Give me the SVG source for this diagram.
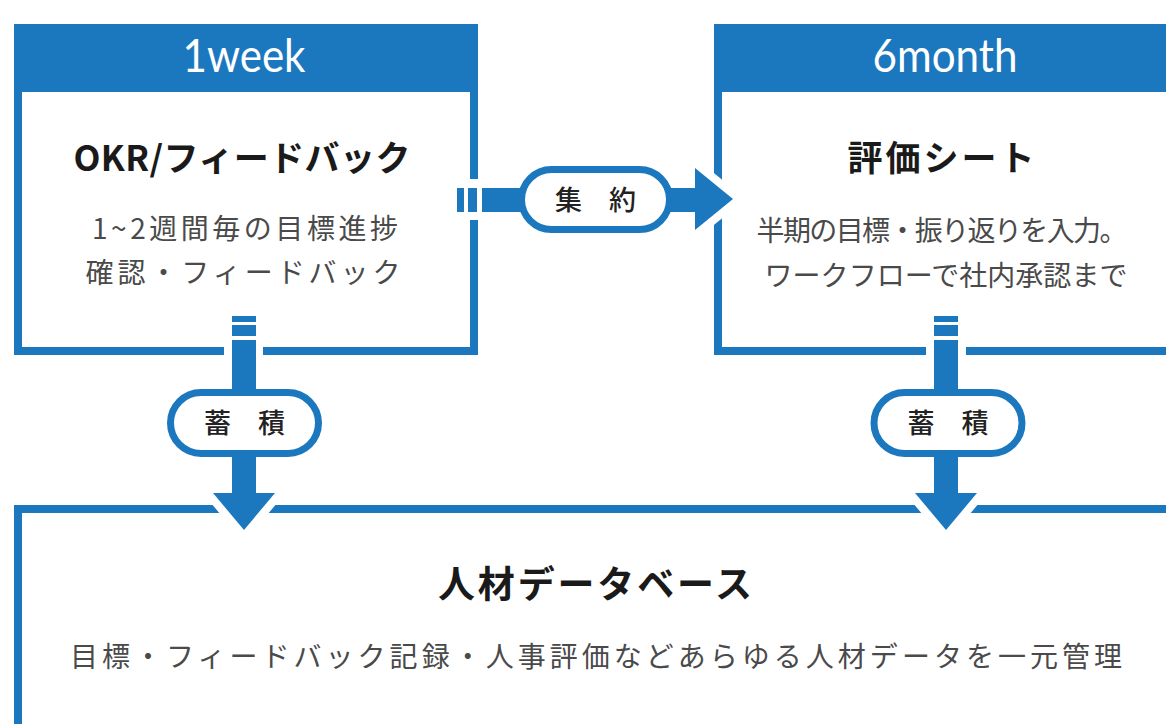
<svg xmlns="http://www.w3.org/2000/svg" width="1166" height="724" viewBox="0 0 1166 724">
<style>
.blue{fill:#1c78be}
.box{fill:#fff;stroke:#1c78be;stroke-width:8}
.hdr{font-family:Lato,"Noto Sans",sans-serif;font-size:46px;fill:#fff;text-anchor:middle}
.ttl{font-family:"Noto Sans CJK JP",sans-serif;font-weight:bold;font-size:35px;fill:#1a1a1a;text-anchor:middle}
.dsc{font-family:"Noto Sans CJK JP",sans-serif;font-size:28px;fill:#4a4a4a;text-anchor:middle}
.pill{fill:#fff;stroke:#1c78be;stroke-width:7}
.pl{font-family:"Noto Sans CJK JP",sans-serif;font-weight:500;font-size:27px;fill:#222;text-anchor:middle}
.halo{fill:#fff;stroke:#fff;stroke-width:16;stroke-linejoin:round}
.gap{fill:#fff}
</style>
<rect width="1166" height="724" fill="#fff"/>
<g id="node-1week">
<rect class="box" x="18" y="28" width="456" height="323"/>
<rect class="blue" x="14" y="24" width="464" height="68"/>
<text class="hdr" x="244" y="72" textLength="123" lengthAdjust="spacingAndGlyphs">1week</text>
<text class="ttl" x="242" y="171" textLength="337">OKR/フィードバック</text>
<text class="dsc" x="245" y="239" textLength="306">1~2週間毎の目標進捗</text>
<text class="dsc" x="243" y="283" textLength="315">確認・フィードバック</text>
</g>
<g id="node-6month">
<rect class="box" x="718" y="28" width="456" height="323"/>
<rect class="blue" x="714" y="24" width="464" height="68"/>
<text class="hdr" x="945" y="72" textLength="145" lengthAdjust="spacingAndGlyphs">6month</text>
<text class="ttl" x="941" y="171" textLength="187">評価シート</text>
<text class="dsc" x="942" y="241" textLength="371">半期の目標・振り返りを入力。</text>
<text class="dsc" x="946" y="286" textLength="363">ワークフローで社内承認まで</text>
</g>
<g id="node-database">
<rect class="box" x="18" y="509" width="1156" height="260"/>
<text class="ttl" x="595" y="598" style="font-size:37px" textLength="314">人材データベース</text>
<text class="dsc" x="596" y="667" textLength="1052">目標・フィードバック記録・人事評価などあらゆる人材データを一元管理</text>
</g>
<g id="connectors">
<!-- halos / gaps -->
<rect class="gap" x="466" y="179" width="14" height="41"/>
<polygon class="halo" points="695,168 733,199 695,230"/>
<rect class="gap" x="224" y="344" width="39" height="14"/>
<polygon class="halo" points="213,493 275,493 244,530"/>
<rect class="gap" x="926" y="344" width="40" height="14"/>
<polygon class="halo" points="915,493 977,493 946,530"/>
<!-- 集約 -->
<g id="edge-aggregate">
<rect class="blue" x="457" y="188" width="7" height="24"/>
<rect class="blue" x="468" y="188" width="9" height="24"/>
<rect class="blue" x="482" y="188" width="215" height="24"/>
<polygon class="blue" points="695,168 733,199 695,230"/>
<rect class="pill" x="521.5" y="169.5" width="148" height="60" rx="30"/>
<text class="pl" x="595.5" y="210">集　約</text>
</g>
<g id="edge-store-left">
<rect class="blue" x="232" y="316" width="24" height="6"/>
<rect class="blue" x="232" y="325" width="24" height="11"/>
<rect class="blue" x="232" y="340" width="24" height="155"/>
<polygon class="blue" points="213,493 275,493 244,530"/>
<rect class="pill" x="170.5" y="392.5" width="148" height="61" rx="30.5"/>
<text class="pl" x="244.5" y="433">蓄　積</text>
</g>
<g id="edge-store-right">
<rect class="blue" x="934" y="316" width="24" height="6"/>
<rect class="blue" x="934" y="325" width="24" height="11"/>
<rect class="blue" x="934" y="340" width="24" height="155"/>
<polygon class="blue" points="915,493 977,493 946,530"/>
<rect class="pill" x="874" y="392.5" width="148" height="61" rx="30.5"/>
<text class="pl" x="948" y="433">蓄　積</text>
</g>
</g>
</svg>
